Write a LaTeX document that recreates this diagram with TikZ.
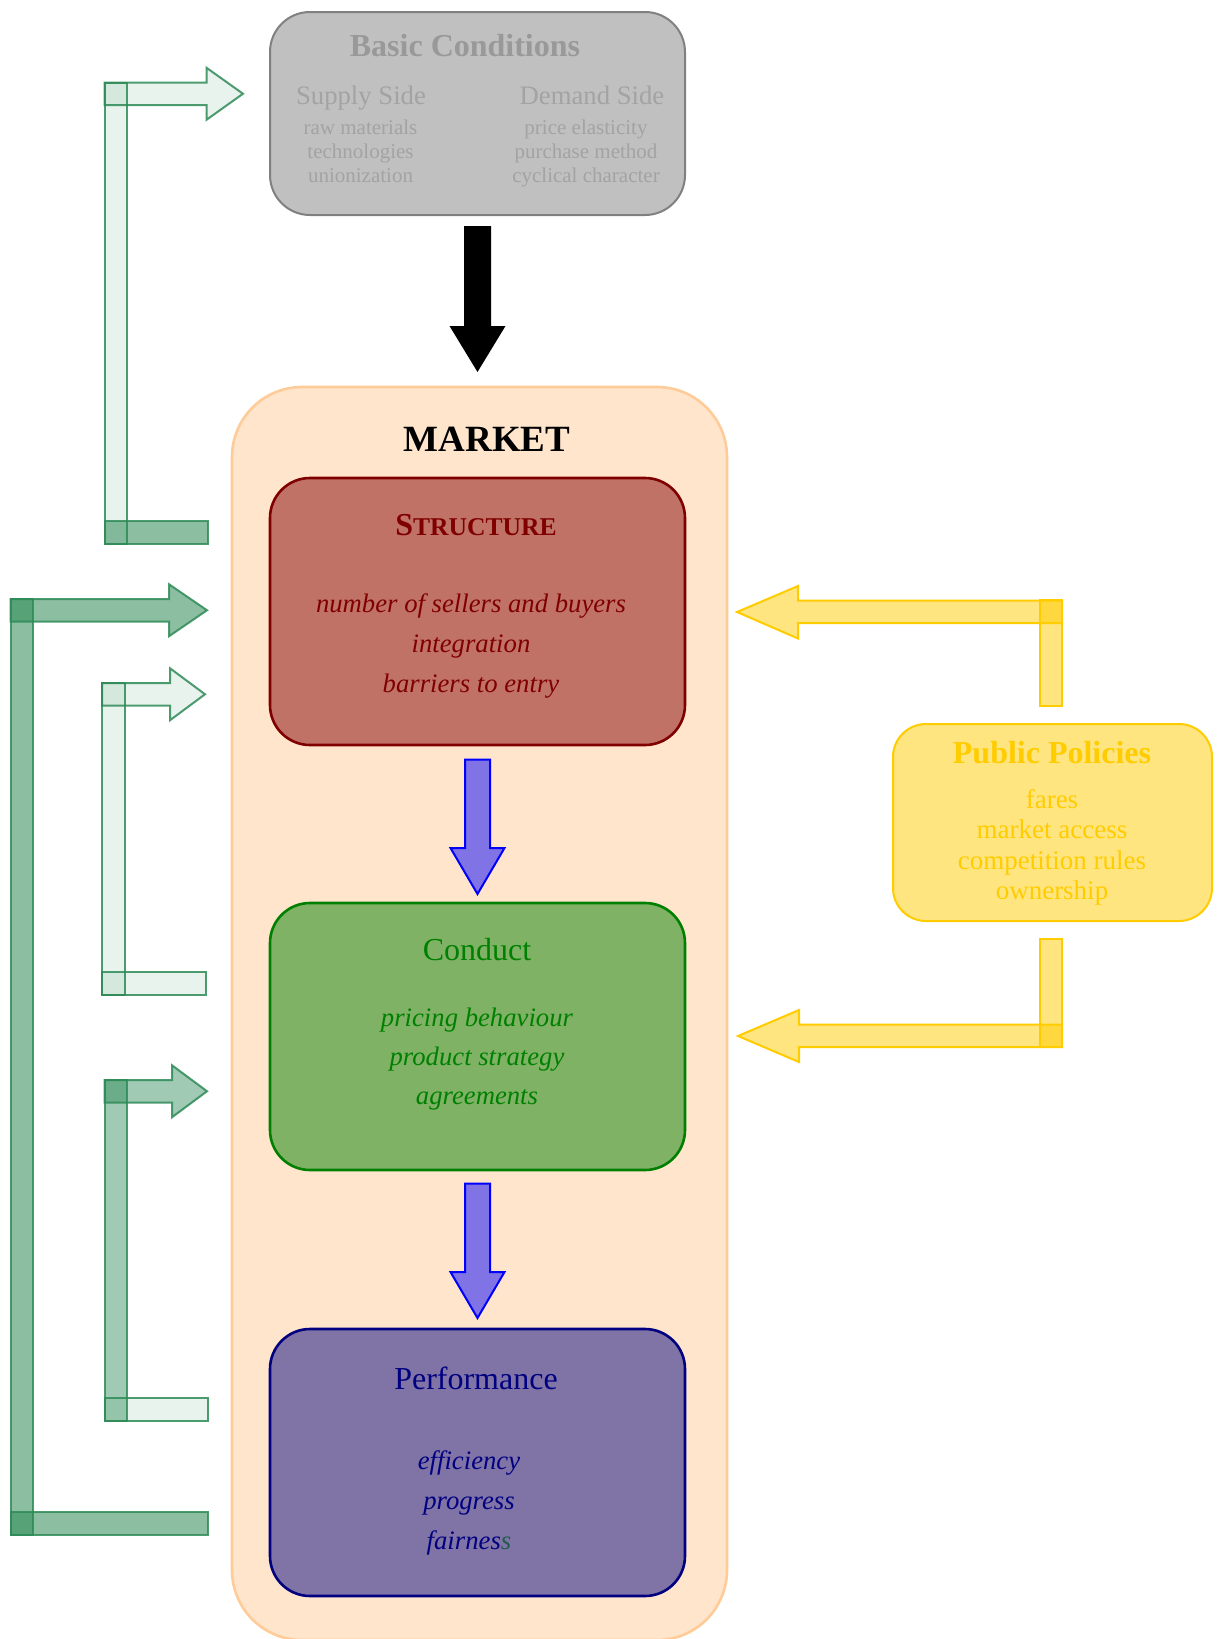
\documentclass[tikz,border=0pt]{standalone}
\usepackage{fontspec}
\setmainfont{Liberation Serif}
\usetikzlibrary{calc}

\definecolor{seagrn}{HTML}{2E8B57}
\definecolor{goldy}{HTML}{FFCC00}
\definecolor{peach}{HTML}{FFE5CC}
\definecolor{peachedge}{HTML}{FFCC99}
\definecolor{basicfill}{HTML}{C0C0C0}
\definecolor{basicedge}{HTML}{808080}
\definecolor{basichead}{HTML}{999999}
\definecolor{basictext}{HTML}{A3A3A3}
\definecolor{structfill}{HTML}{C07266}
\definecolor{structedge}{HTML}{800000}
\definecolor{condfill}{HTML}{80B266}
\definecolor{condedge}{HTML}{008000}
\definecolor{perffill}{HTML}{8073A6}
\definecolor{perfedge}{HTML}{000080}
\definecolor{polfill}{HTML}{FFE580}
\definecolor{flowfill}{HTML}{8073E6}
\definecolor{odds}{HTML}{1F5C4E}

% vertical block arrow: top point, tip point, shaft half width, head half width, head length, style
\newcommand{\downblock}[6]{%
  \path[#6] let \p1=(#1), \p2=(#2) in
    (\x1-#3pt,\y1) -- (\x1+#3pt,\y1) -- (\x1+#3pt,\y2+#5pt) -- (\x1+#4pt,\y2+#5pt)
    -- (\x1,\y2) -- (\x1-#4pt,\y2+#5pt) -- (\x1-#3pt,\y2+#5pt) -- cycle;}

% bent feedback arrow on the left: x of the bar, top of the upper shaft, top of the lower bar,
% head base x, tip x, right end of the lower bar, style of bar and head, style of lower bar
\newcommand{\bendarrow}[8]{%
  \draw[#8] (#1,#3) rectangle (#6,#3+22.5);
  \draw[#7] (#1,#2) rectangle (#1+22.5,#3+22.5);
  \draw[#7] (#1,#2) -- (#4,#2) -- (#4,#2-14.75) -- (#5,#2+11.25) -- (#4,#2+37.25)
    -- (#4,#2+22.5) -- (#1,#2+22.5) -- cycle;}

\tikzset{
  panel/.style={rectangle, rounded corners=40pt, line width=2.6pt, anchor=north west,
    inner sep=0pt, outer sep=0pt, minimum width=415pt, minimum height=267pt},
  lbl/.style={anchor=base, inner sep=0pt, outer sep=0pt},
  headfont/.style={font=\fontsize{32}{38}\selectfont},
  subfont/.style={font=\fontsize{26.7}{32}\selectfont},
  itemfont/.style={font=\fontsize{21}{25}\selectfont},
  listfont/.style={font=\fontsize{26.7}{32}\selectfont\itshape},
  polfont/.style={font=\fontsize{27}{32}\selectfont},
  fbfaint/.style={draw=seagrn, draw opacity=0.85, line width=2pt, fill=seagrn, fill opacity=0.1},
  fbmid/.style={draw=seagrn, draw opacity=0.85, line width=2pt, fill=seagrn, fill opacity=0.45},
  fbstrong/.style={draw=seagrn, draw opacity=0.85, line width=2pt, fill=seagrn, fill opacity=0.55},
  polarrow/.style={draw=goldy, line width=2pt, fill=goldy, fill opacity=0.5},
  flowarrow/.style={draw=blue, line width=2pt, fill=flowfill},
  mainarrow/.style={fill=black}
}

\begin{document}
\begin{tikzpicture}[x=1pt,y=-1pt]
\useasboundingbox (0,0) rectangle (1218,1639);
\fill[white] (0,0) rectangle (1218,1639);

% market frame
\node[panel, rounded corners=70pt, fill=peach, draw=peachedge, minimum width=495pt,
  minimum height=1253pt] (market) at (232,387) {};
\node[lbl, font=\fontsize{37}{44}\selectfont\bfseries] (markettitle) at (487,451) {MARKET};

% basic conditions
\node[panel, fill=basicfill, draw=basicedge, line width=2pt, minimum height=203pt] (basic) at (270,12) {};
\node[lbl, headfont, font=\fontsize{32}{38}\selectfont\bfseries, text=basichead] (basictitle) at (465,56) {Basic Conditions};
\node[lbl, subfont, text=basictext] (supply) at (361,104) {Supply Side};
\node[lbl, subfont, text=basictext] (demand) at (592,104) {Demand Side};
\node[lbl, itemfont, text=basictext] (s1) at (360.5,134.5) {raw materials};
\node[lbl, itemfont, text=basictext] (s2) at (360.5,158.5) {technologies};
\node[lbl, itemfont, text=basictext] (s3) at (360.5,182.5) {unionization};
\node[lbl, itemfont, text=basictext] (d1) at (586,134.5) {price elasticity};
\node[lbl, itemfont, text=basictext] (d2) at (586,158.5) {purchase method};
\node[lbl, itemfont, text=basictext] (d3) at (586,182.5) {cyclical character};

% structure
\node[panel, fill=structfill, draw=structedge] (structure) at (270,478) {};
\node[lbl, text=structedge, font=\bfseries] (structtitle) at (476,535)
  {\fontsize{32}{38}\selectfont S\fontsize{25.6}{30}\selectfont TRUCTURE};
\node[lbl, listfont, text=structedge] (st1) at (471,612) {number of sellers and buyers};
\node[lbl, listfont, text=structedge] (st2) at (471,652) {integration};
\node[lbl, listfont, text=structedge] (st3) at (471,692) {barriers to entry};

% conduct
\node[panel, fill=condfill, draw=condedge] (conduct) at (270,903) {};
\node[lbl, headfont, text=condedge] (condtitle) at (477,960) {Conduct};
\node[lbl, listfont, text=condedge] (c1) at (477,1026) {pricing behaviour};
\node[lbl, listfont, text=condedge] (c2) at (477,1065) {product strategy};
\node[lbl, listfont, text=condedge] (c3) at (477,1104) {agreements};

% performance
\node[panel, fill=perffill, draw=perfedge] (perf) at (270,1329) {};
\node[lbl, headfont, text=perfedge] (perftitle) at (476,1389) {Performance};
\node[lbl, listfont, text=perfedge] (p1) at (469,1469) {efficiency};
\node[lbl, listfont, text=perfedge] (p2) at (469,1509) {progress};
\node[lbl, listfont, text=perfedge] (p3) at (469,1549) {fairnes{\color{odds}s}};

% public policies
\node[panel, rounded corners=33pt, fill=polfill, draw=goldy, line width=2pt,
  minimum width=319pt, minimum height=197pt] (policy) at (893,724) {};
\node[lbl, font=\fontsize{32}{38}\selectfont\bfseries, text=goldy] (poltitle) at (1052,763) {Public Policies};
\node[lbl, polfont, text=goldy] (pl1) at (1052,808) {fares};
\node[lbl, polfont, text=goldy] (pl2) at (1052,838.5) {market access};
\node[lbl, polfont, text=goldy] (pl3) at (1052,869) {competition rules};
\node[lbl, polfont, text=goldy] (pl4) at (1052,899.5) {ownership};

% main flow arrows
\downblock{$(basic.south)+(0,11)$}{$(market.north)+(0,-15)$}{13.5}{28}{46}{mainarrow}
\downblock{$(structure.south)+(0,14.5)$}{$(conduct.north)+(0,-9)$}{12.5}{27}{46}{flowarrow}
\downblock{$(conduct.south)+(0,13.5)$}{$(perf.north)+(0,-11)$}{12.5}{27}{46}{flowarrow}

% feedback arrows on the left
\bendarrow{104.5}{82.5}{521}{206.5}{243}{208}{fbfaint}{fbstrong}
\bendarrow{10.5}{599}{1512}{169}{207}{208}{fbstrong}{fbstrong}
\bendarrow{102}{683}{972}{170}{205}{206}{fbfaint}{fbfaint}
\bendarrow{104.5}{1080}{1398}{172}{207}{208}{fbmid}{fbfaint}

% public policy arrows
\draw[polarrow] (1039.5,600) rectangle (1062,706);
\draw[polarrow] (1062,600.5) -- (798,600.5) -- (798,586) -- (737,612) -- (798,638.5)
  -- (798,623) -- (1062,623) -- cycle;
\draw[polarrow] (1039.5,939) rectangle (1062,1047);
\draw[polarrow] (1062,1024.5) -- (799,1024.5) -- (799,1010) -- (738,1036) -- (799,1062)
  -- (799,1047) -- (1062,1047) -- cycle;
\end{tikzpicture}
\end{document}
